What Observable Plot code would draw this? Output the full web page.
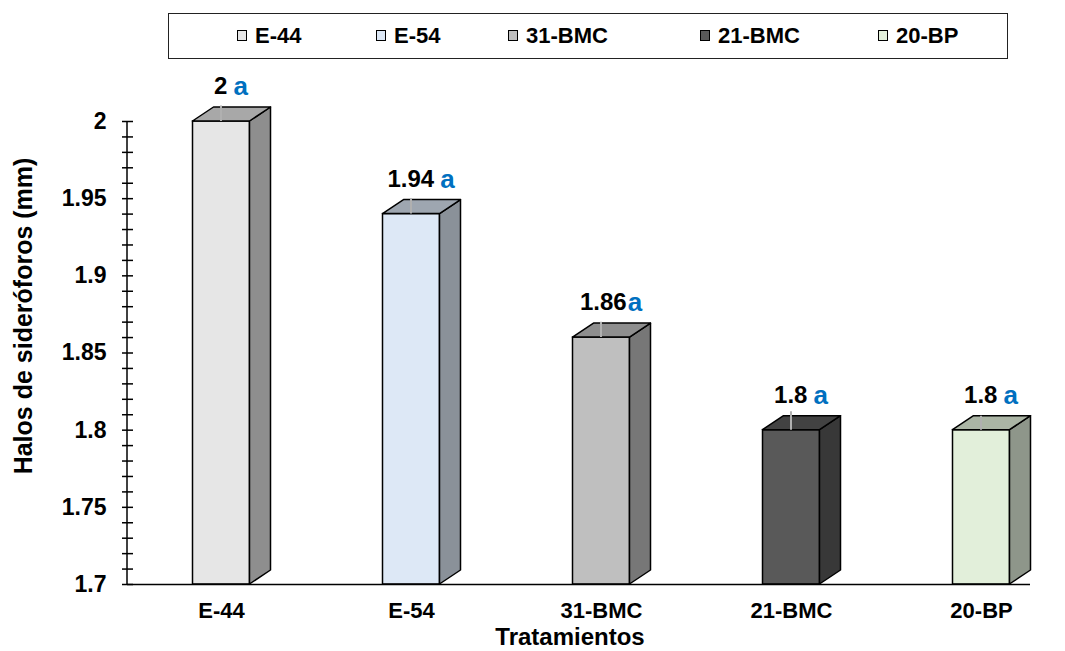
<!DOCTYPE html>
<html>
<head>
<meta charset="utf-8">
<script src="https://cdn.jsdelivr.net/npm/d3@7"></script>
<script src="https://cdn.jsdelivr.net/npm/@observablehq/plot@0.6"></script>
<style>
  body { margin: 0; background: #fff; font-family: "Liberation Sans", Arial, sans-serif; }
  #wrap { position: relative; width: 1065px; height: 651px; overflow: hidden; }
  #legend { position: relative; height: 64px; }
  #legend .box { position: absolute; left: 168px; top: 13px; width: 838px; height: 44px; border: 1.5px solid #222; }
  #legend .item { position: absolute; top: 24px; font-weight: bold; font-size: 22px; line-height: 24px; color: #000; white-space: nowrap; }
  #legend .sw { display: inline-block; width: 8px; height: 9px; border: 1.5px solid #000; margin-right: 8px; vertical-align: 2px; }
  svg text { font-family: "Liberation Sans", Arial, sans-serif; }
</style>
</head>
<body>
<div id="wrap">
  <div id="legend"><div class="box"></div></div>
  <div id="chart"></div>
</div>
<script>
// ---- data ----
const categories = ["E-44", "E-54", "31-BMC", "21-BMC", "20-BP"];
const haloValues = [2, 1.94, 1.86, 1.8, 1.8];
const errorValues = [0.01, 0.01, 0.01, 0.012, 0.009];
const letters = ["a", "a", "a", "a", "a"];
const frontColors = ["#e6e6e6", "#dde8f6", "#bfbfbf", "#595959", "#e2efda"];
const sideColors = ["#8e8e8e", "#8a9199", "#777777", "#383838", "#8e968a"];
const topColors = ["#a8a8a8", "#9ea6b0", "#8e8e8e", "#424242", "#abb5a5"];
const yMajorTicks = [1.7, 1.75, 1.8, 1.85, 1.9, 1.95, 2];
const yMinorTicks = d3.range(170, 201).map(v => v / 100);

const rows = categories.map((c, i) => ({cat: c, v: haloValues[i], err: errorValues[i], letter: letters[i], front: frontColors[i], side: sideColors[i], top: topColors[i]}));

// ---- legend ----
const legendX = [237, 376, 508, 700, 878];
const legend = document.getElementById("legend");
categories.forEach((c, i) => {
  const it = document.createElement("div");
  it.className = "item";
  it.style.left = legendX[i] + "px";
  const sw = document.createElement("span");
  sw.className = "sw";
  sw.style.background = frontColors[i];
  it.appendChild(sw);
  it.appendChild(document.createTextNode(c));
  legend.appendChild(it);
});

// ---- chart ----
const DX = 21, DY = 14, HALF = 28.5;

function boxes(index, scales, values, dimensions) {
  const x = scales.x, y = scales.y;
  const bw = x.bandwidth ? x.bandwidth() : 190;
  const g = d3.create("svg:g");
  const {marginLeft} = dimensions;
  g.append("line").attr("x1", marginLeft).attr("x2", marginLeft)
    .attr("y1", y(2)).attr("y2", y(1.7)).attr("stroke", "#000").attr("stroke-width", 1.5);
  rows.forEach(d => {
    const cx = x(d.cat) + bw / 2;
    const x0 = cx - HALF, x1 = cx + HALF;
    const yt = y(d.v), yb = y(1.7);
    g.append("path")
      .attr("d", `M${x1},${yt}L${x1 + DX},${yt - DY}L${x1 + DX},${yb - DY}L${x1},${yb}Z`)
      .attr("fill", d.side).attr("stroke", "#000").attr("stroke-width", 1.5).attr("stroke-linejoin", "round");
    g.append("path")
      .attr("d", `M${x0},${yt}L${x1},${yt}L${x1 + DX},${yt - DY}L${x0 + DX},${yt - DY}Z`)
      .attr("fill", d.top).attr("stroke", "#000").attr("stroke-width", 1.5).attr("stroke-linejoin", "round");
    g.append("line").attr("x1", cx).attr("x2", cx).attr("y1", yt).attr("y2", y(d.v + d.err))
      .attr("stroke", "#b0b0b0").attr("stroke-width", 2);
    const t = g.append("text").attr("x", cx + 10).attr("y", yt - 33)
      .attr("text-anchor", "middle").attr("dominant-baseline", "middle")
      .attr("font-weight", "bold");
    t.append("tspan").attr("fill", "#000").attr("font-size", 24).text(String(d.v));
    t.append("tspan").attr("fill", "#0070c0").attr("font-size", 26).attr("dx", d.cat === "31-BMC" ? 1 : 6).text(d.letter);
  });
  return g.node();
}

const chart = Plot.plot({
  width: 1065,
  height: 587,
  marginLeft: 127,
  marginRight: 35,
  marginTop: 57,
  marginBottom: 67,
  style: {fontFamily: "Liberation Sans, Arial, sans-serif", background: "#fff", overflow: "visible"},
  x: {type: "band", domain: categories, range: [126, 1076], padding: 0},
  y: {domain: [1.7, 2]},
  marks: [
    Plot.rectY(rows, {x: "cat", y1: 1.7, y2: "v", fill: "front", stroke: "#000", strokeWidth: 1.5, insetLeft: 95 - HALF, insetRight: 95 - HALF}),
    Plot.ruleY([1.7], {stroke: "#000", strokeWidth: 1.5}),
    boxes,
    Plot.axisY({ticks: yMinorTicks, tickSize: 11, dx: 6, tickFormat: () => "", label: null, stroke: "#000", strokeWidth: 1.5}),
    Plot.axisY({ticks: yMajorTicks, tickSize: 0, tickPadding: 21, tickFormat: d => String(+d.toFixed(2)), label: null, fontSize: 23, fontWeight: "bold", fill: "#000"}),
    Plot.axisX({tickSize: 0, tickPadding: 18, label: null, fontSize: 22, fontWeight: "bold", fill: "#000"}),
    Plot.text(["Tratamientos"], {frameAnchor: "bottom", dy: 53, dx: -9, fontSize: 24, fontWeight: "bold", fill: "#000", lineAnchor: "middle"}),
    Plot.text(["Halos de sideróforos (mm)"], {frameAnchor: "left", textAnchor: "middle", dx: -104, dy: -37, rotate: -90, fontSize: 25, fontWeight: "bold", fill: "#000"})
  ]
});
document.getElementById("chart").appendChild(chart);
</script>
</body>
</html>
